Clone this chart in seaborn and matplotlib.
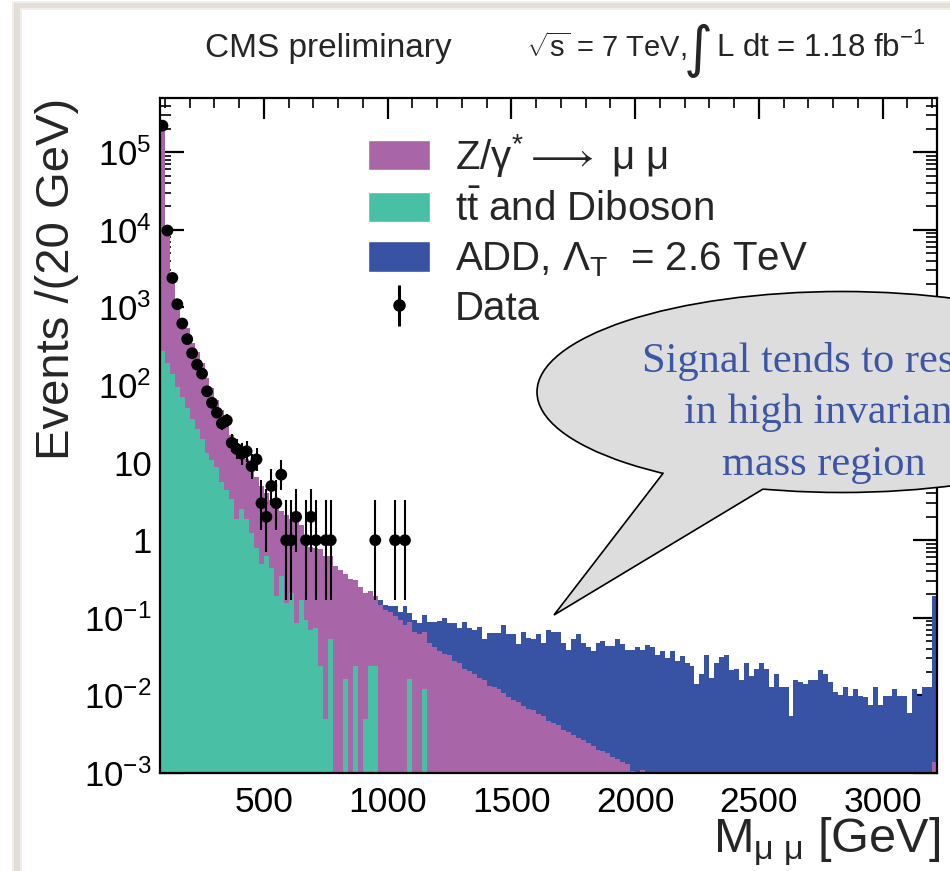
import numpy as np
import pandas as pd
import matplotlib
matplotlib.use("Agg")
import matplotlib.pyplot as plt
from matplotlib.patches import Ellipse, Polygon, Patch, Rectangle
from matplotlib.ticker import (FixedLocator, FixedFormatter, LogLocator,
                               NullFormatter, MultipleLocator)
import seaborn as sns

# --- DATEN (Ereignisse pro 20 GeV) ---
BIN_WIDTH = 20
M_MIN, M_MAX = 80, 3220

# tt + Diboson, ab 80 GeV
ttbar_diboson = [
    275, 190, 140, 93, 70, 50, 37, 27, 20, 13.5,
    10.7, 8.7, 5.6, 4.4, 3.4, 1.9, 2.5, 1.9, 1.23, 0.79,
    0.50, 0.62, 0.44, 0.19, 0.35, 0.155, 0.21, 0.085, 0.17, 0.093,
    0.07, 0.074, 0.024, 0.005, 0.053, 0, 0, 0.0165, 0, 0.024,
    0, 0.005, 0.024, 0.024, 0, 0, 0, 0, 0, 0,
    0.0165, 0, 0, 0.012,
]

# Z/gamma* + tt + Diboson (Oberkante Untergrund-Stack), ab 80 GeV
bkg_total = [
    2.0e5, 1.07e4, 2800, 1200, 720, 540, 350, 265, 195, 125,
    92, 64, 47, 30, 23, 18, 14, 11, 8.5, 6.5,
    5.0, 4.0, 3.3, 2.8, 2.4, 2.1, 1.9, 1.7, 1.55, 0.94,
    0.82, 0.79, 0.77, 0.62, 0.62, 0.47, 0.41, 0.37, 0.32, 0.31,
    0.25, 0.21, 0.22, 0.19, 0.145, 0.125, 0.12, 0.105, 0.093, 0.08,
    0.088, 0.065, 0.062, 0.065, 0.048, 0.042, 0.037, 0.034, 0.033, 0.028,
    0.026, 0.022, 0.0205, 0.0187, 0.0169, 0.0159, 0.0131, 0.0129, 0.012, 0.0107,
    0.0095, 0.0087, 0.0082, 0.0073, 0.0067, 0.0065, 0.0057, 0.0054, 0.0047, 0.0044,
    0.0042, 0.0036, 0.0034, 0.0031, 0.0028, 0.0027, 0.0024, 0.0022, 0.0020, 0.0019,
    0.0018, 0.0016, 0.0015, 0.0014, 0.0013, 0.00105, 0, 0.0011, 0, 0,
] + [0] * 56 + [0.0014]

# ADD-Signal auf Untergrund gestapelt, ab 960 GeV
ADD_MIN = 960
add_total = [
    0.17, 0.145, 0.14, 0.14, 0.12, 0.14, 0.115, 0.093, 0.085, 0.11,
    0.088, 0.088, 0.09, 0.10, 0.085, 0.085, 0.074, 0.088, 0.075, 0.069,
    0.076, 0.053, 0.063, 0.063, 0.063, 0.08, 0.062, 0.062, 0.046, 0.066,
    0.055, 0.053, 0.062, 0.048, 0.069, 0.066, 0.066, 0.048, 0.038, 0.053,
    0.062, 0.048, 0.042, 0.037, 0.048, 0.05, 0.043, 0.043, 0.053, 0.046,
    0.038, 0.038, 0.042, 0.039, 0.044, 0.042, 0.033, 0.037, 0.03, 0.037,
    0.028, 0.032, 0.026, 0.024, 0.014, 0.019, 0.033, 0.017, 0.026, 0.031,
    0.033, 0.021, 0.022, 0.016, 0.026, 0.018, 0.022, 0.026, 0.022, 0.013,
    0.019, 0.013, 0.013, 0.0055, 0.016, 0.015, 0.014, 0.016, 0.016, 0.021,
    0.019, 0.015, 0.011, 0.010, 0.013, 0.0098, 0.012, 0.0098, 0.0095, 0.0075,
    0.013, 0.0075, 0.0098, 0.0098, 0.012, 0.0098, 0.0098, 0.006, 0.012, 0.0098,
    0.013, 0.013, 0.19,
]

# Daten, ab 80 GeV
data_counts = [
    220000, 9800, 2400, 1100, 620, 390, 257, 183, 140, 83,
    59, 44, 32, 35, 18, 15, 13, 14, 9, 11,
    3, 2, 5, 3, 7, 1, 1, 2, 0, 1,
    2, 1, 0, 1, 1, 0, 0, 0, 0, 0,
    0, 0, 0, 1, 0, 0, 0, 1, 0, 1,
]

Y_TICKS = [1e-3, 1e-2, 1e-1, 1, 10, 1e2, 1e3, 1e4, 1e5]
Y_LABELS = [r"$\mathregular{10^{-3}}$", r"$\mathregular{10^{-2}}$",
            r"$\mathregular{10^{-1}}$", "1", "10",
            r"$\mathregular{10^{2}}$", r"$\mathregular{10^{3}}$",
            r"$\mathregular{10^{4}}$", r"$\mathregular{10^{5}}$"]
X_TICKS = [500, 1000, 1500, 2000, 2500, 3000]

LEGEND_LABELS = [
    r"Z/$\mathregular{\gamma^{*}}\longrightarrow$ μ μ",
    r"$\mathregular{t\bar{t}}$ and Diboson",
    r"ADD, $\mathregular{Λ_{T}}$  = 2.6 TeV",
    "Data",
]
BUBBLE_LINES = ["Signal tends to reside", "in high invariant", "mass region"]

# --- DESIGN ---
COL_DY = "#a866a9"
COL_TT = "#49bfa6"
COL_ADD = "#3953a4"
COL_BUBBLE = "#dddddd"
COL_BUBBLE_TEXT = "#3c56a5"
COL_FRAME = "#e4ded9"

sns.set_style("ticks")
plt.rcParams["font.family"] = ["Liberation Sans", "DejaVu Sans"]
plt.rcParams["mathtext.fontset"] = "custom"
plt.rcParams["mathtext.rm"] = "Liberation Sans"
plt.rcParams["mathtext.it"] = "Liberation Sans:italic"
plt.rcParams["mathtext.bf"] = "Liberation Sans:bold"

W, H = 950, 871


def draw_layer(ax, lo, heights, color):
    heights = np.asarray(heights, dtype=float)
    edges = lo + BIN_WIDTH * np.arange(len(heights) + 1)
    df = pd.DataFrame({"mass": edges[:-1] + BIN_WIDTH / 2, "events": heights})
    sns.histplot(data=df, x="mass", weights="events", bins=edges.tolist(),
                 element="bars", fill=True, color=color, alpha=1,
                 linewidth=0, antialiased=False, ax=ax)


def poisson_band(n):
    # Wilson-Hilferty Naeherung der 68% Poisson-Intervalle
    n = np.asarray(n, dtype=float)
    lo = n * (1 - 1 / (9 * n) - 1 / (3 * np.sqrt(n))) ** 3
    hi = (n + 1) * (1 - 1 / (9 * (n + 1)) + 1 / (3 * np.sqrt(n + 1))) ** 3
    return n - lo, hi - n


fig = plt.figure(figsize=(W / 100, H / 100), dpi=100)
ax = fig.add_axes([160 / W, (H - 773) / H, (937 - 160) / W, (773 - 98) / H])
ax.set_yscale("log")

# Stack: von hinten nach vorne
draw_layer(ax, ADD_MIN, add_total, COL_ADD)
draw_layer(ax, M_MIN, bkg_total, COL_DY)
draw_layer(ax, M_MIN, ttbar_diboson, COL_TT)

# Daten
counts = np.asarray(data_counts, dtype=float)
centers = M_MIN + BIN_WIDTH * (np.arange(len(counts)) + 0.5)
mask = counts > 0
err_lo, err_hi = poisson_band(counts[mask])
ax.errorbar(centers[mask], counts[mask], yerr=[err_lo, err_hi], fmt="none",
            ecolor="black", elinewidth=1.5, capsize=0, zorder=5)
sns.scatterplot(x=centers[mask], y=counts[mask], color="black", s=72,
                edgecolor="none", zorder=6, ax=ax, legend=False)

ax.set_xlim(M_MIN, M_MAX)
ax.set_ylim(1e-3, 5e5)
ax.set_xlabel("")
ax.set_ylabel("")

ax.yaxis.set_major_locator(FixedLocator(Y_TICKS))
ax.yaxis.set_major_formatter(FixedFormatter(Y_LABELS))
ax.yaxis.set_minor_locator(LogLocator(base=10, subs=np.arange(2, 10), numticks=30))
ax.yaxis.set_minor_formatter(NullFormatter())
ax.xaxis.set_major_locator(FixedLocator(X_TICKS))
ax.xaxis.set_minor_locator(MultipleLocator(100))

ax.tick_params(axis="both", which="both", direction="in", top=True, right=True,
               colors="black")
ax.tick_params(axis="x", which="major", length=15, width=1.6, labelsize=25.5, pad=9)
ax.tick_params(axis="x", which="minor", length=7.5, width=1.2)
ax.tick_params(axis="y", which="major", length=17, width=1.6, labelsize=25, pad=6)
ax.tick_params(axis="y", which="minor", length=8, width=1.2)
for sp in ax.spines.values():
    sp.set_linewidth(1.6)
    sp.set_color("black")

# Legende
err_handle = ax.errorbar([np.nan], [np.nan], yerr=[1], fmt="o", color="black",
                         markersize=8, elinewidth=2.2, capsize=0)
handles = [Patch(facecolor=COL_DY), Patch(facecolor=COL_TT),
           Patch(facecolor=COL_ADD), err_handle]
fig.legend(handles, LEGEND_LABELS, loc="upper left",
           bbox_to_anchor=(368 / W, 1 - 132 / H), frameon=False,
           fontsize=29, handlelength=1.55, handleheight=0.8,
           handletextpad=0.6, labelspacing=0.28, borderpad=0, borderaxespad=0)

# Overlay in Pixelkoordinaten
ov = fig.add_axes([0, 0, 1, 1])
ov.set_xlim(0, W)
ov.set_ylim(H, 0)
ov.axis("off")

# Rahmen (weicher Schatten oben und links)
ov.add_patch(Rectangle((12, 1), W, 9, facecolor="#f1eeeb", edgecolor="none"))
ov.add_patch(Rectangle((12, 1), 10, H, facecolor="#f1eeeb", edgecolor="none"))
ov.add_patch(Rectangle((14, 3), W, 5, facecolor=COL_FRAME, edgecolor="none"))
ov.add_patch(Rectangle((14, 3), 6, H, facecolor=COL_FRAME, edgecolor="none"))

# Titel
ov.text(205, 57, "CMS preliminary", fontsize=24, ha="left", va="baseline")
ov.text(526, 57, r"$\mathregular{\sqrt{s}}$ = 7 TeV,", fontsize=21,
        ha="left", va="baseline")
ov.text(684, 66, "∫", fontsize=40, ha="left", va="baseline",
        family=["DejaVu Sans"])
ov.text(716, 57, r"L dt = 1.18 fb$^{\mathregular{-1}}$", fontsize=22.5,
        ha="left", va="baseline")

# Achsentitel
ov.text(69, 460, "Events /(20 GeV)", fontsize=34, rotation=90,
        rotation_mode="anchor", ha="left", va="baseline")
ov.text(940, 852, r"M$_{\mathregular{μ\ μ}}$ [GeV]", fontsize=35,
        ha="right", va="baseline")

# Sprechblase
cx, cy, a, b = 842, 392, 305, 100.5
ov.add_patch(Ellipse((cx, cy), 2 * a, 2 * b, facecolor=COL_BUBBLE,
                     edgecolor="black", lw=1.2))
tip = np.array([554.0, 615.0])
joints = []
for jx in (663, 763):
    jy = cy + b * np.sqrt(1 - ((jx - cx) / a) ** 2)
    joints.append(np.array([jx, jy]))
base = [j + 0.08 * (j - tip) for j in joints]
ov.add_patch(Polygon([base[0], tip, base[1]], closed=True,
                     facecolor=COL_BUBBLE, edgecolor="none"))
ov.plot([joints[0][0], tip[0], joints[1][0]], [joints[0][1], tip[1], joints[1][1]],
        color="black", lw=1.2, solid_joinstyle="miter")
for line, yb in zip(BUBBLE_LINES, (372, 423, 475)):
    ov.text(824, yb, line, fontsize=30.5, ha="center", va="baseline",
            color=COL_BUBBLE_TEXT, family=["Liberation Serif", "DejaVu Serif"])

fig.savefig("out.png", dpi=100)
plt.close(fig)
